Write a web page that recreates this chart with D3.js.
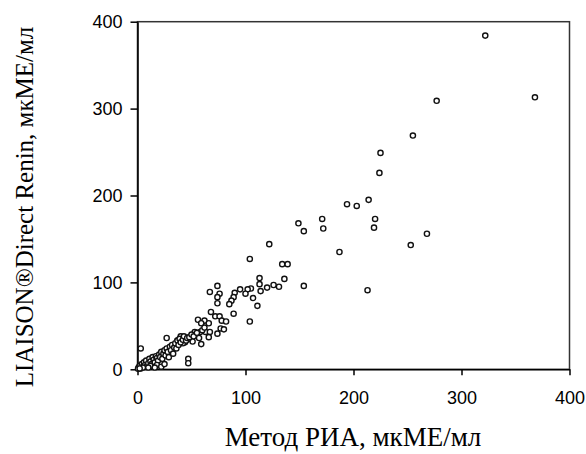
<!DOCTYPE html>
<html>
<head>
<meta charset="utf-8">
<script src="https://cdn.jsdelivr.net/npm/d3@7"></script>
<style>
  body { margin: 0; background: #fff; }
  .axis text { font-family: "Liberation Sans", Arial, sans-serif; font-size: 18px; fill: #000; }
  .axis path, .axis line { stroke: #000; stroke-width: 1.5; }
  .title { font-family: "Liberation Serif", "Times New Roman", serif; fill: #000; }
</style>
</head>
<body>
<svg id="chart" width="586" height="454"></svg>
<script>
// RIA method (x) vs LIAISON Direct Renin (y), mcIU/ml
var riaValues = [
  322, 368, 277, 255, 225, 224, 214, 194, 203, 220, 219, 171, 172, 149, 154, 187, 268, 253, 213, 154,
  122, 104, 134, 139, 136, 113, 113, 126, 131, 120, 114, 105, 102, 100, 107, 111, 104, 95, 90, 89,
  87, 85, 89, 74, 67, 76, 74, 74, 68, 72, 76, 78, 82, 77, 80, 74, 56, 62, 59, 66,
  53, 58, 63, 67, 66, 59, 57, 51, 47, 40, 44, 47, 47, 27, 37, 42, 3,
  1, 2, 3, 4, 5, 6, 7, 8, 9, 10, 11, 12, 13, 14, 15, 16, 17, 18, 19, 20,
  21, 22, 23, 24, 25, 26, 27, 28, 29, 30, 31, 32, 33, 34, 35, 36, 37, 38, 39, 40,
  42, 43, 45, 46, 48, 50, 52, 55, 60, 62, 5, 12, 18, 22, 25, 16, 0.5, 2, 10
];
var liaisonValues = [
  384, 313, 309, 269, 249, 226, 195, 190, 188, 173, 163, 173, 162, 168, 159, 135, 156, 143, 91, 96,
  144, 127, 121, 121, 104, 105, 98, 97, 95, 94, 90, 93, 92, 87, 82, 73, 55, 92, 88, 83,
  79, 75, 64, 96, 89, 87, 83, 76, 66, 61, 61, 56, 55, 47, 46, 41, 57, 56, 53, 53,
  43, 43, 43, 43, 37, 29, 36, 32, 35, 38, 31, 12, 7, 36, 33, 30, 24,
  2, 4, 1, 6, 3, 8, 5, 10, 4, 7, 12, 9, 6, 14, 11, 8, 15, 13, 10, 17,
  14, 20, 12, 18, 22, 16, 24, 20, 14, 26, 22, 28, 18, 25, 30, 24, 33, 28, 35, 31,
  34, 38, 33, 36, 37, 40, 38, 42, 45, 48, 2, 4, 5, 3, 6, 2, 0.5, 1, 2
];
var xTicks = [0, 100, 200, 300, 400];
var yTicks = [0, 100, 200, 300, 400];
var xTitle = "Метод РИА, мкМЕ/мл";
var yTitle = "LIAISON®Direct Renin, мкМЕ/мл";

var svg = d3.select("#chart");
var plotLeft = 137.5, plotRight = 569.5, plotTop = 21.7, plotBottom = 369.3;

var x = d3.scaleLinear().domain([0, 400]).range([plotLeft, plotRight]);
var y = d3.scaleLinear().domain([0, 400]).range([plotBottom, plotTop]);

// frame
svg.append("rect")
  .attr("x", plotLeft).attr("y", plotTop)
  .attr("width", plotRight - plotLeft).attr("height", plotBottom - plotTop)
  .attr("fill", "none").attr("stroke", "#333").attr("stroke-width", 1.5);

svg.append("g")
  .attr("class", "axis")
  .attr("transform", "translate(0," + plotBottom + ")")
  .call(d3.axisBottom(x).tickValues(xTicks).tickSize(6).tickPadding(16).tickSizeOuter(0));

svg.append("g")
  .attr("class", "axis")
  .attr("transform", "translate(" + plotLeft + ",0)")
  .call(d3.axisLeft(y).tickValues(yTicks).tickSize(7).tickPadding(8).tickSizeOuter(0));

var pts = riaValues.map(function (v, i) { return [v, liaisonValues[i]]; });

svg.append("g").selectAll("circle")
  .data(pts)
  .enter().append("circle")
  .attr("cx", function (d) { return x(d[0]); })
  .attr("cy", function (d) { return y(d[1]); })
  .attr("r", 2.6)
  .attr("fill", "#fff")
  .attr("stroke", "#111")
  .attr("stroke-width", 1.4);

svg.append("text")
  .attr("class", "title")
  .attr("x", 353).attr("y", 446)
  .attr("text-anchor", "middle")
  .style("font-size", "27px")
  .text(xTitle);

svg.append("text")
  .attr("class", "title")
  .attr("transform", "translate(33,207) rotate(-90)")
  .attr("text-anchor", "middle")
  .style("font-size", "25px")
  .text(yTitle);
</script>
</body>
</html>
